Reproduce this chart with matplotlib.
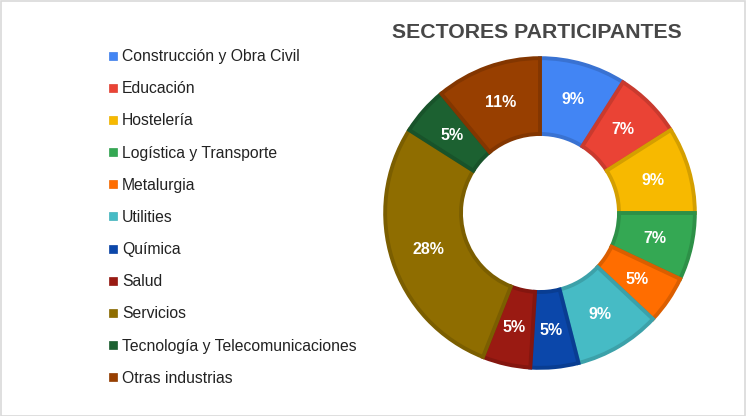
import matplotlib
matplotlib.use("Agg")
import matplotlib.pyplot as plt
from matplotlib.lines import Line2D
from matplotlib.patches import Rectangle
import matplotlib.colors as mcolors

plt.rcParams['font.family'] = ['Liberation Sans', 'DejaVu Sans']

categories = ["Construcción y Obra Civil", "Educación", "Hostelería",
              "Logística y Transporte", "Metalurgia", "Utilities", "Química",
              "Salud", "Servicios", "Tecnología y Telecomunicaciones",
              "Otras industrias"]
values = [9, 7, 9, 7, 5, 9, 5, 5, 28, 5, 11]
colors = ["#4285F4", "#EA4335", "#F7B900", "#34A853", "#FF6D00", "#46BBC5",
          "#0B47AA", "#9A1A12", "#8F6D00", "#1C6131", "#983F00"]
title = "SECTORES PARTICIPANTES"

W, H = 746, 416
fig = plt.figure(figsize=(W / 100, H / 100), dpi=100)
fig.patches.append(Rectangle((0.5 / W, 0.5 / H), 1 - 1.5 / W, 1 - 1.5 / H,
                             transform=fig.transFigure, fill=False,
                             edgecolor="#D9D9D9", linewidth=1.2))

cx, cy, r = 540, 213, 158
ax = fig.add_axes([(cx - r) / W, (H - cy - r) / H, 2 * r / W, 2 * r / H])
ax.axis('off')

def darker(c, f=0.88):
    rgb = mcolors.to_rgb(c)
    return tuple(v * f for v in rgb)

wedges, texts, autotexts = ax.pie(
    values, colors=colors, startangle=90, counterclock=False, radius=0.98,
    autopct='%d%%', pctdistance=0.76,
    wedgeprops=dict(width=0.48, linewidth=2.8),
    textprops=dict(color='white', fontsize=11.5, fontweight='bold'))
for w, c in zip(wedges, colors):
    w.set_edgecolor(darker(c, 0.86))
ax.set_xlim(-1, 1)
ax.set_ylim(-1, 1)
ax.set_aspect('equal')

handles = [Line2D([0], [0], marker='s', linestyle='none', markersize=6,
                  markerfacecolor=c, markeredgecolor=darker(c, 0.95),
                  markeredgewidth=0.5) for c in colors]
fig.legend(handles, categories, loc='upper left',
           bbox_to_anchor=(107 / W, 1 - 49 / H), frameon=False,
           fontsize=11.3, handlelength=0.75, handletextpad=0.2,
           labelspacing=1.095, borderpad=0, borderaxespad=0,
           labelcolor='#222222')

fig.text(537 / W, 1 - 32 / H, title, ha='center', va='center',
         fontsize=15.3, fontweight='bold', color='#474747')

fig.savefig("out.png", dpi=100)
